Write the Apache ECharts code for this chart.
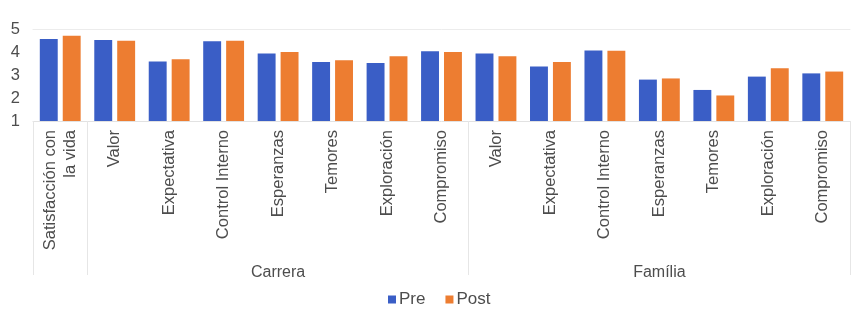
<!DOCTYPE html>
<html>
<head>
<meta charset="utf-8">
<script src="https://cdn.jsdelivr.net/npm/echarts@6/dist/echarts.min.js"></script>
<style>
html,body{margin:0;padding:0;background:#fff;}
#chart{width:853px;height:320px;}
</style>
</head>
<body>
<div id="chart"></div>
<script>
const categories = ['Satisfacción con\nla vida','Valor','Expectativa','Control Interno','Esperanzas','Temores','Exploración','Compromiso','Valor','Expectativa','Control Interno','Esperanzas','Temores','Exploración','Compromiso'];
const groupLabels = ['','','','','Carrera','','','','','','','Família','','',''];
const groupBoundaries = [0, 1, 8];
const preValues  = [4.56, 4.52, 3.59, 4.47, 3.93, 3.56, 3.52, 4.03, 3.93, 3.37, 4.06, 2.80, 2.35, 2.93, 3.07];
const postValues = [4.71, 4.49, 3.68, 4.49, 4.00, 3.64, 3.81, 4.00, 3.81, 3.56, 4.05, 2.85, 2.11, 3.29, 3.15];
const yTicks = {min: 1, max: 5, interval: 1};

const textColor = '#4d4d4d';
const chart = echarts.init(document.getElementById('chart'), null, {renderer: 'canvas'});
chart.setOption({
  animation: false,
  textStyle: {fontFamily: 'Liberation Sans, Arial, sans-serif'},
  grid: {left: 33, right: 3, top: 29, bottom: 199, containLabel: false},
  legend: {
    data: ['Pre', 'Post'],
    bottom: 7,
    left: 383,
    itemWidth: 8,
    itemHeight: 8,
    itemGap: 20,
    icon: 'rect',
    textStyle: {fontSize: 17, color: textColor, padding: [0, 0, 0, -2]}
  },
  xAxis: [
    {
      type: 'category',
      data: categories,
      position: 'bottom',
      axisLine: {show: true, lineStyle: {color: '#e2e2e2'}},
      axisTick: {show: false},
      axisLabel: {rotate: 90, fontSize: 16.5, color: textColor, margin: 9, interval: 0, lineHeight: 20}
    },
    {
      type: 'category',
      data: groupLabels,
      position: 'bottom',
      axisLine: {show: false},
      axisTick: {show: true, length: 154, lineStyle: {color: '#e6e6e6'},
        interval: function (i) { return groupBoundaries.indexOf(i) >= 0; }},
      axisLabel: {fontSize: 16, color: textColor, margin: 144, interval: 0}
    },
    {
      type: 'category',
      data: categories,
      position: 'top',
      axisLine: {show: true, lineStyle: {color: '#ececec'}},
      axisTick: {show: false},
      axisLabel: {show: false}
    }
  ],
  yAxis: {
    type: 'value',
    min: yTicks.min,
    max: yTicks.max,
    interval: yTicks.interval,
    axisLine: {show: false},
    axisTick: {show: false},
    splitLine: {show: false},
    axisLabel: {fontSize: 16.5, color: textColor, margin: 13}
  },
  series: [
    {name: 'Pre', type: 'bar', data: preValues, itemStyle: {color: '#3a5ec6'}, barGap: '28%', barCategoryGap: '25%'},
    {name: 'Post', type: 'bar', data: postValues, itemStyle: {color: '#ed7d31'}, barGap: '28%', barCategoryGap: '25%'}
  ]
});
</script>
</body>
</html>
